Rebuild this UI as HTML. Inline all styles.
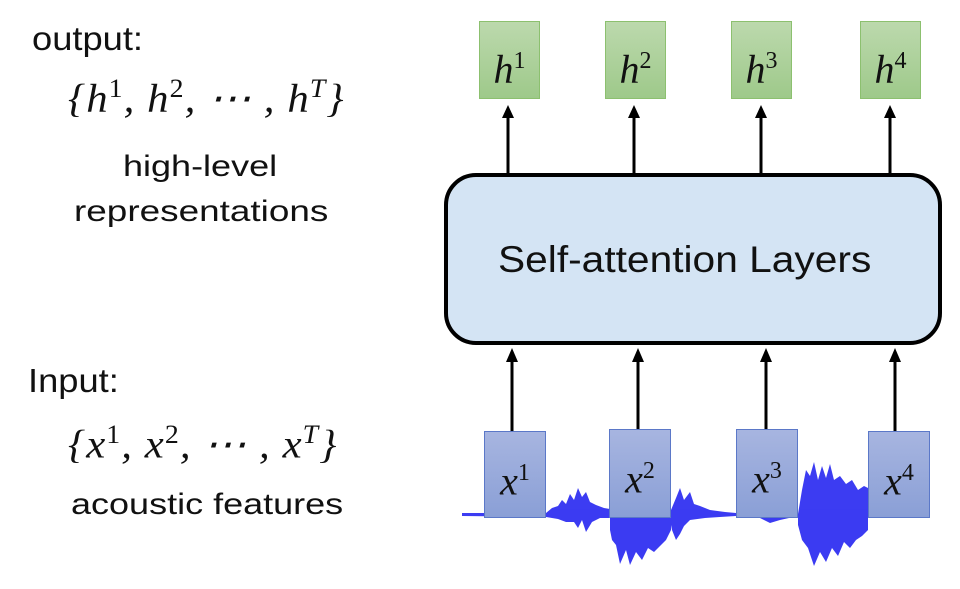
<!DOCTYPE html>
<html><head><style>
body{margin:0;width:960px;height:589px;background:#fff;overflow:hidden;position:relative;font-family:"Liberation Sans",sans-serif}
.t{position:absolute;white-space:nowrap;color:#111;transform-origin:0 0}
.m{font-family:"Liberation Serif",serif;font-style:italic;font-size:40px;letter-spacing:1px}
.m sup{font-size:26px;font-style:normal}
.g{position:absolute;width:61px;height:78px;background:linear-gradient(#bcd9ad,#9ec98a);border:1.5px solid #8cc06f;box-sizing:border-box;text-align:center;font-family:"Liberation Serif",serif;font-style:italic;font-size:40px;line-height:78px;color:#111}
.g sup,.b sup{font-size:24px;font-style:normal}
.b{position:absolute;width:62px;height:88px;background:linear-gradient(#a7b5e0,#8a9fd6);border:1.5px solid #5b78c8;box-sizing:border-box;text-align:center;font-family:"Liberation Serif",serif;font-style:italic;font-size:40px;line-height:82px;color:#111}
</style></head><body>
<div class="t" style="left:32px;top:20px;font-size:33px;transform:scaleX(1.1)">output:</div>
<div class="t m" style="left:68px;top:74px;transform:scaleX(1.07)">{<i>h</i><sup>1</sup>, <i>h</i><sup>2</sup>, ⋯ , <i>h</i><sup><i>T</i></sup>}</div>
<div class="t" style="left:123px;top:150px;font-size:30px;transform:scaleX(1.2)">high-level</div>
<div class="t" style="left:74px;top:195px;font-size:30px;transform:scaleX(1.23)">representations</div>
<div class="t" style="left:28px;top:362px;font-size:33px;transform:scaleX(1.1)">Input:</div>
<div class="t m" style="left:68px;top:420px;transform:scaleX(1.07)">{<i>x</i><sup>1</sup>, <i>x</i><sup>2</sup>, ⋯ , <i>x</i><sup><i>T</i></sup>}</div>
<div class="t" style="left:71px;top:488px;font-size:30px;transform:scaleX(1.2)">acoustic features</div>

<svg style="position:absolute;left:0;top:0" width="960" height="589">
<g fill="#1a1af0" opacity="0.85">
<path d="M462,513 L546,513 L552,508 L558,506 L562,500 L566,504 L570,494 L574,500 L578,488 L582,497 L586,492 L590,502 L596,505 L604,508 L610,509 L610,518 L600,518 L592,522 L586,532 L582,520 L578,528 L574,522 L566,522 L558,519 L546,517 L462,516z"/>
<path d="M671,510 L676,498 L680,488 L684,500 L690,492 L694,504 L700,506 L710,510 L725,512 L736,513 L736,516 L720,517 L705,518 L690,520 L684,526 L680,534 L676,540 L672,530 L671,525z"/>
<path d="M610,518 L671,518 L671,530 L666,540 L660,546 L654,552 L648,548 L642,560 L636,552 L630,565 L626,550 L620,564 L616,545 L612,540 L610,530z"/>
<path d="M798,514 L802,490 L806,470 L810,476 L814,462 L818,480 L822,466 L826,478 L830,464 L834,480 L840,476 L846,484 L852,480 L858,490 L864,486 L868,488 L868,530 L862,536 L856,540 L850,548 L844,542 L838,556 L832,548 L826,562 L820,552 L814,566 L808,548 L802,540 L798,525z"/>
<path d="M736,515 L760,518 L770,523 L780,520 L798,516 L798,514 L736,513z"/>
</g>
<rect x="446" y="175" width="494" height="168" rx="30" fill="#d4e4f4" stroke="#000" stroke-width="4"/>
<g stroke="#000" stroke-width="3">
<line x1="508" y1="175" x2="508" y2="118"/><line x1="634" y1="175" x2="634" y2="118"/>
<line x1="761" y1="175" x2="761" y2="118"/><line x1="890" y1="175" x2="890" y2="118"/>
<line x1="512" y1="432" x2="512" y2="362"/><line x1="638" y1="430" x2="638" y2="362"/>
<line x1="766" y1="430" x2="766" y2="362"/><line x1="895" y1="432" x2="895" y2="362"/>
</g>
<g fill="#000">
<polygon points="508,105 502,118 514,118"/><polygon points="634,105 628,118 640,118"/>
<polygon points="761,105 755,118 767,118"/><polygon points="890,105 884,118 896,118"/>
<polygon points="512,348 506,362 518,362"/><polygon points="638,348 632,362 644,362"/>
<polygon points="766,348 760,362 772,362"/><polygon points="895,348 889,362 901,362"/>
</g>
</svg>
<div class="t" style="left:498px;top:239px;font-size:37px;color:#111;transform:scaleX(1.1)">Self-attention Layers</div>

<div class="g" style="left:479px;top:21px">h<sup>1</sup></div>
<div class="g" style="left:605px;top:21px">h<sup>2</sup></div>
<div class="g" style="left:731px;top:21px">h<sup>3</sup></div>
<div class="g" style="left:860px;top:21px">h<sup>4</sup></div>
<div class="b" style="left:484px;top:431px;height:87px">x<sup>1</sup></div>
<div class="b" style="left:609px;top:429px;height:89px">x<sup>2</sup></div>
<div class="b" style="left:736px;top:429px;height:89px">x<sup>3</sup></div>
<div class="b" style="left:868px;top:431px;height:87px">x<sup>4</sup></div>
</body></html>
